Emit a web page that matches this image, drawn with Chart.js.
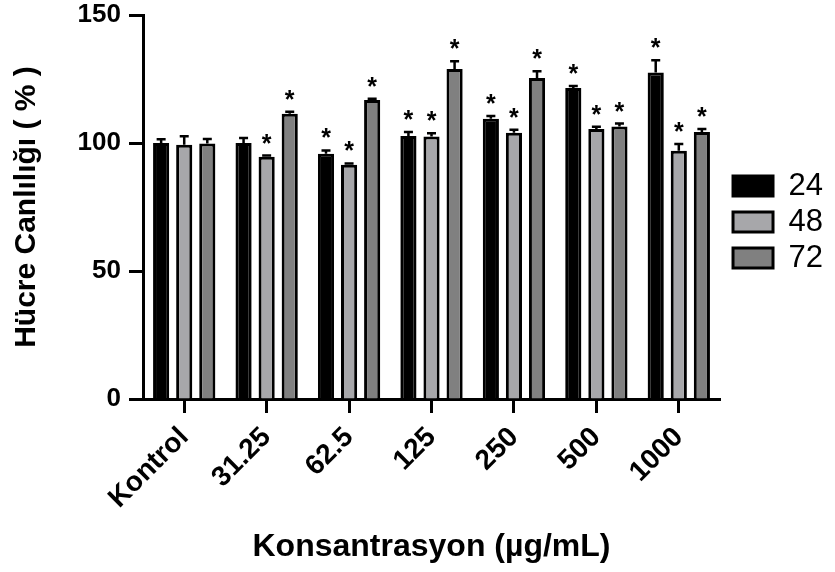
<!DOCTYPE html>
<html>
<head>
<meta charset="utf-8">
<script src="https://cdn.jsdelivr.net/npm/chart.js@4/dist/chart.umd.min.js"></script>
<style>
  html, body { margin: 0; padding: 0; background: #fff; }
  #wrap { width: 835px; height: 572px; }
</style>
</head>
<body>
<div id="wrap"><canvas id="c" width="835" height="572"></canvas></div>
<script>
// ---- data ----
const categories = ['Kontrol', '31.25', '62.5', '125', '250', '500', '1000'];
const seriesNames = ['24', '48', '72'];
const values24 = [100.0, 100.0, 95.8, 102.7, 109.5, 121.5, 127.5];
const values48 = [99.3, 94.6, 91.5, 102.5, 104.0, 105.5, 97.0];
const values72 = [99.8, 111.4, 116.8, 128.9, 125.4, 106.4, 104.3];
const err24 = [1.5, 2.0, 1.3, 1.6, 1.0, 0.8, 4.8];
const err48 = [3.3, 0.5, 0.5, 1.3, 1.2, 0.8, 2.6];
const err72 = [1.8, 0.8, 0.5, 3.0, 2.6, 1.2, 1.2];
const sig24 = [false, false, true, true, true, true, true];
const sig48 = [false, true, true, true, true, true, true];
const sig72 = [false, true, true, true, true, true, true];
const yTicks = [0, 50, 100, 150];

const FONT = "'Liberation Sans', Arial, sans-serif";

const errorBarsPlugin = {
  id: 'errorBars',
  afterDatasetsDraw(chart) {
    const ctx = chart.ctx;
    const yScale = chart.scales.y;
    chart.data.datasets.forEach((ds, di) => {
      const meta = chart.getDatasetMeta(di);
      meta.data.forEach((bar, i) => {
        const v = ds.data[i];
        const e = ds.errors[i];
        const yTop = yScale.getPixelForValue(v);
        const yErr = yScale.getPixelForValue(v + e);
        ctx.save();
        ctx.strokeStyle = '#000';
        ctx.lineWidth = 2.5;
        ctx.beginPath();
        ctx.moveTo(bar.x, yTop);
        ctx.lineTo(bar.x, yErr);
        ctx.moveTo(bar.x - 4.5, yErr);
        ctx.lineTo(bar.x + 4.5, yErr);
        ctx.stroke();
        if (ds.sig[i]) {
          ctx.fillStyle = '#000';
          ctx.font = 'bold 25px ' + FONT;
          ctx.textAlign = 'center';
          ctx.textBaseline = 'alphabetic';
          ctx.fillText('*', bar.x, yErr - 4);
        }
        ctx.restore();
      });
    });
  }
};

const legendShiftPlugin = {
  id: 'legendShift',
  afterLayout(chart) {
    const l = chart.legend;
    if (l) {
      const shift = 222 - (l.top + l.bottom) / 2;
      l.top += shift; l.bottom += shift;
      l.left += 8; l.right += 8;
    }
  }
};

const common = { borderColor: '#000', borderWidth: 3, borderSkipped: 'start',
                 categoryPercentage: 0.84, barPercentage: 0.7 };

new Chart(document.getElementById('c'), {
  type: 'bar',
  data: {
    labels: categories,
    datasets: [
      Object.assign({ label: seriesNames[0], data: values24, errors: err24, sig: sig24, backgroundColor: '#000000' }, common),
      Object.assign({ label: seriesNames[1], data: values48, errors: err48, sig: sig48, backgroundColor: '#a7a7aa' }, common),
      Object.assign({ label: seriesNames[2], data: values72, errors: err72, sig: sig72, backgroundColor: '#808080' }, common)
    ]
  },
  options: {
    responsive: false,
    animation: false,
    devicePixelRatio: 1,
    layout: { padding: { top: 15, right: 10, bottom: 0, left: 0 } },
    plugins: {
      legend: {
        position: 'right',
        labels: {
          boxWidth: 40, boxHeight: 20, padding: 5,
          color: '#000',
          font: { family: FONT, size: 31, weight: 'normal' }
        }
      },
      tooltip: { enabled: false }
    },
    scales: {
      x: {
        offset: true,
        grid: { offset: false, drawOnChartArea: false, drawTicks: true, tickLength: 14, tickWidth: 3, tickColor: '#000' },
        border: { display: true, color: '#000', width: 3 },
        ticks: {
          color: '#000', minRotation: 45, maxRotation: 45, padding: 8,
          font: { family: FONT, size: 28, weight: 'bold' }
        },
        title: {
          display: true, text: 'Konsantrasyon (µg/mL)', color: '#000',
          font: { family: FONT, size: 32, weight: 'bold' },
          padding: { top: 0, bottom: 6 }
        },
        afterFit(scale) { scale.height = 173; scale.paddingLeft = 0; scale.paddingRight = 0; }
      },
      y: {
        min: 0, max: 150,
        afterBuildTicks(scale) { scale.ticks = yTicks.map(v => ({ value: v })); },
        grid: { drawOnChartArea: false, drawTicks: true, tickLength: 14, tickWidth: 3, tickColor: '#000' },
        border: { display: true, color: '#000', width: 3 },
        ticks: {
          color: '#000', padding: 8,
          font: { family: FONT, size: 26, weight: 'bold' }
        },
        title: {
          display: true, text: 'Hücre Canlılığı ( % )', color: '#000',
          font: { family: FONT, size: 30, weight: 'bold' },
          padding: { top: 9, bottom: 0 }
        },
        afterFit(scale) { scale.width = 143; scale.paddingTop = 0; scale.paddingBottom = 0; }
      }
    }
  },
  plugins: [errorBarsPlugin, legendShiftPlugin]
});
</script>
</body>
</html>
